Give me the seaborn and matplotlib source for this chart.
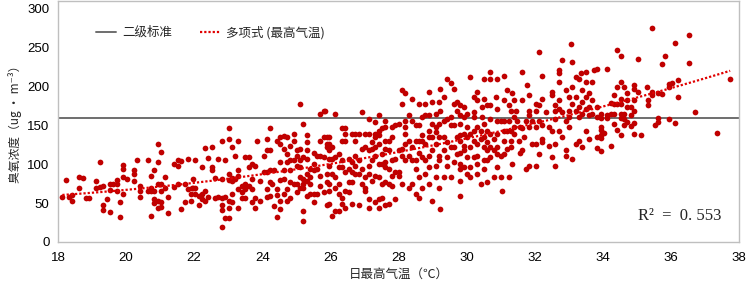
import pandas as pd
import seaborn as sns
import matplotlib.pyplot as plt

# Daily max temperature (°C) columns and the ozone readings (ug/m3) stacked in each,
# read off the chart strip by strip
temp_18_22 = [18.13, 18.23, 18.32, 18.42, 18.63, 18.73, 18.81, 18.91, 19.12, 19.22,
              19.31, 19.33, 19.43, 19.53, 19.63, 19.73, 19.82, 19.92, 20.02, 20.23,
              20.32, 20.42, 20.64, 20.74, 20.83, 20.93, 21.03, 21.13, 21.23, 21.42,
              21.52, 21.62, 21.72, 21.81, 21.91, 21.98]
ozone_18_22 = [[58], [80], [58], [53, 60], [83, 69], [82], [57], [57], [78, 70], [103, 71],
               [47, 41], [72], [55], [38, 75, 67], [75], [75, 80, 65], [51, 32], [99, 94, 83, 62], [81], [92, 88, 78],
               [106], [72, 66, 58], [105, 65], [85, 69, 66, 34], [92, 66, 55, 50], [126, 103, 75, 53, 44],
               [116, 75, 65, 52, 45], [83, 69], [58, 37], [100, 71],
               [106, 98, 74], [104, 43], [74, 51], [107, 68], [62, 53], [70, 81]]

temp_22_26 = [21.93, 22.03, 22.13, 22.22, 22.32, 22.42, 22.52, 22.62, 22.71, 22.81,
              22.91, 23.01, 23.11, 23.20, 23.30, 23.40, 23.50, 23.60, 23.69, 23.79,
              23.84, 23.94, 24.04, 24.13, 24.23, 24.28, 24.33, 24.43, 24.53, 24.63,
              24.72, 24.82, 24.92, 25.02, 25.12, 25.21, 25.31, 25.41, 25.51, 25.61,
              25.70, 25.80, 25.90]
ozone_22_26 = [[69], [105, 69, 62], [59, 48], [96, 62, 55], [121, 66, 53], [108, 58], [122, 96, 92], [82, 57],
               [107, 58], [130, 81, 57, 48, 41, 19],
               [106, 58, 31], [146, 133, 87, 80, 53, 44, 31], [122, 82, 79, 62, 51], [111, 81],
               [130, 92, 85, 68, 44], [72, 64, 57], [109, 75, 68, 57], [109, 96, 72], [100, 81, 68, 51],
               [98, 57, 44],
               [130], [79, 53], [110, 90], [133, 118, 90, 68, 58], [146, 118, 92, 77, 59], [75], [92, 46],
               [130, 68, 61, 32], [135, 126, 103, 80, 53, 42], [136, 120, 92, 81, 62],
               [135, 113, 103, 68, 53], [124, 105, 92, 77, 57], [139, 130, 105, 75], [118, 111, 98, 75, 64],
               [178, 120, 105, 96, 83, 70], [152, 109, 81, 75, 70, 40, 27], [137, 128, 118, 107, 87, 79, 59],
               [94, 83, 75, 62], [114, 100, 92, 62, 51], [111, 94, 62],
               [165, 130, 111, 85, 72], [169, 135, 109, 64], [135, 126, 122, 87, 77, 48]]

temp_26_30 = [25.85, 25.95, 26.05, 26.14, 26.24, 26.34, 26.44, 26.54, 26.63, 26.73,
              26.83, 26.93, 27.03, 27.12, 27.22, 27.32, 27.42, 27.52, 27.61, 27.71,
              27.81, 27.91, 28.01, 28.10, 28.20, 28.30, 28.40, 28.50, 28.59, 28.69,
              28.79, 28.89, 28.99, 29.09, 29.18, 29.23, 29.33, 29.43, 29.53, 29.62,
              29.72, 29.82, 29.92]
ozone_26_30 = [[169], [135, 126, 118, 107, 98, 75, 66, 49], [122, 107, 87, 34], [165, 109, 83, 70, 40],
               [113, 96, 75, 62, 40], [146, 130, 105, 96, 57, 49], [146, 139, 130, 90, 66, 44],
               [107, 94, 77, 64], [139, 103, 90, 77, 49], [139, 130, 111, 98, 87],
               [139, 105, 87, 47], [167, 120, 94, 75], [139, 122, 83, 70, 66], [158, 139, 118, 98, 87, 55, 44],
               [128, 120, 105, 79], [154, 139, 135, 122, 111, 85, 51], [163, 143, 137, 126, 100, 83, 55, 44],
               [146, 113, 100, 75, 57], [156, 148, 130, 120, 103, 96, 77, 47], [130, 118, 94, 75, 49],
               [148, 135, 105, 85, 72], [150, 107, 90, 55], [152, 118, 90, 85], [195, 178, 120, 111, 75],
               [191, 156, 148, 139, 126, 105], [163, 130, 111, 70], [184, 156, 122, 105, 75],
               [150, 130, 105, 94, 62], [178, 150, 130, 115, 83, 57], [161, 137, 130, 109, 70],
               [178, 163, 126, 105, 87], [193, 163, 143, 135, 111, 96, 75], [180, 152, 135, 118, 53],
               [165, 148, 141, 126, 98, 83], [180, 152, 135, 111, 105, 70], [197, 169, 42],
               [186, 156, 135, 118, 83], [210, 158, 128, 109, 98], [204, 161, 150, 122, 83],
               [197, 178, 150, 122, 103],
               [180, 169, 135, 113], [176, 163, 152, 137, 130, 115, 100, 94, 79, 59],
               [174, 161, 139, 124, 118, 96]]

temp_30_34 = [30.02, 30.11, 30.21, 30.31, 30.41, 30.46, 30.51, 30.60, 30.70, 30.80,
              30.85, 30.90, 31.00, 31.05, 31.09, 31.19, 31.24, 31.29, 31.34, 31.39,
              31.44, 31.49, 31.54, 31.58, 31.63, 31.68, 31.73, 31.78, 31.83, 31.93,
              32.03, 32.12, 32.22, 32.32, 32.42, 32.52, 32.61, 32.71, 32.81, 32.91,
              33.01, 33.06, 33.10, 33.20, 33.30, 33.35, 33.40, 33.50, 33.59, 33.69,
              33.74, 33.84]
ozone_30_34 = [[165, 148, 135, 109, 87], [212, 139, 122, 96, 83], [186, 167, 161, 143, 130, 109],
               [193, 182, 148, 126, 111, 100, 87], [143, 133, 75], [174, 161],
               [210, 184, 152, 135, 122, 105, 94], [176, 143, 128, 118, 105, 77],
               [219, 210, 176, 158, 139, 122, 109], [133, 118, 83],
               [186], [210, 171, 156, 139, 122, 113, 96], [156, 111, 83], [66],
               [214, 182, 156, 143, 130, 113], [195, 143, 120], [176, 156, 83], [169, 143, 130, 122],
               [191, 100], [182, 161, 148, 139],
               [169], [156], [130], [148, 115], [219, 182, 146, 118], [135], [156, 94], [202],
               [189, 169, 163, 148, 98], [156, 126],
               [178, 169, 148, 126, 98], [245, 176, 156, 113], [214, 184, 150, 133, 128], [167],
               [148, 124], [193, 189, 143, 109], [176, 169, 158, 126, 98],
               [221, 217, 206, 182, 171, 143], [234, 167, 135], [195, 156, 118, 111],
               [186, 169, 161, 148], [255], [232, 199, 178, 107], [212, 186, 169, 126],
               [210, 174, 161, 130], [217], [195, 180, 165, 122], [219, 206, 186, 171, 143],
               [191, 174, 163, 133], [206, 182, 165],
               [221], [222, 174, 161, 135, 121]]

temp_34_38 = [33.94, 34.04, 34.13, 34.23, 34.33, 34.43, 34.53, 34.62, 34.72, 34.82,
              34.92, 35.02, 35.11, 35.31, 35.34, 35.44, 35.54, 35.63, 35.73, 35.83,
              35.93, 36.03, 36.12, 36.22, 36.52, 36.71, 37.35, 37.74]
ozone_34_38 = [[165, 159, 148, 144, 138, 134, 117], [140], [222, 163, 159], [179, 164, 124],
               [189, 178, 165, 152], [247, 200, 178, 144], [239, 206, 184, 178, 165, 160, 138],
               [199, 165, 158, 151], [191, 183, 174, 154], [174, 163, 149],
               [202, 197, 183, 169, 153, 139], [236, 193], [137], [199], [183, 176], [275, 193, 189],
               [151], [192, 160, 154], [229, 190], [239],
               [203, 200, 158], [205], [256, 153], [209, 186], [266, 230], [167], [140], [210]]

standard_level = 160   # 二级标准
r2_text = 'R²  =  0. 553'
x_ticks = list(range(18, 39, 2))
y_ticks = list(range(0, 301, 50))

rows = []
for temps, ozones in [(temp_18_22, ozone_18_22), (temp_22_26, ozone_22_26),
                      (temp_26_30, ozone_26_30), (temp_30_34, ozone_30_34),
                      (temp_34_38, ozone_34_38)]:
    for t, vals in zip(temps, ozones, strict=True):
        for v in vals:
            rows.append({'temp': t, 'ozone': v})
df = pd.DataFrame(rows)

sns.set_style('white')
plt.rcParams['font.family'] = ['Noto Sans CJK SC', 'DejaVu Sans']

fig = plt.figure(figsize=(7.47, 2.86), dpi=100)
ax = fig.add_axes([0.0776, 0.154, 0.9117, 0.8425])

sns.scatterplot(data=df, x='temp', y='ozone', color='#C00000', s=17, linewidth=0, ax=ax, zorder=3)
std_line = ax.axhline(standard_level, color='#6E6E6E', linewidth=1.4, zorder=2)
# second-order polynomial trend, as in the spreadsheet
sns.regplot(data=df, x='temp', y='ozone', order=2, ci=None, scatter=False, ax=ax,
            line_kws={'color': '#E00000', 'linewidth': 1.6, 'linestyle': (0, (1, 0.9)), 'zorder': 4})
trend_line = ax.get_lines()[-1]

ax.set_xlim(18, 38)
ax.set_ylim(0, 310)
ax.set_xticks(x_ticks)
ax.set_yticks(y_ticks)
ax.tick_params(direction='in', length=4, color='#BFBFBF', labelsize=9, colors='#000000')
ax.tick_params(axis='x', pad=7)
ax.tick_params(axis='y', pad=6)
for lab in ax.get_xticklabels() + ax.get_yticklabels():
    lab.set_family(['Liberation Sans'])
    lab.set_fontsize(9.5)
for sp in ax.spines.values():
    sp.set_color('#BFBFBF')
    sp.set_linewidth(1)

ax.set_xlabel('日最高气温（℃）', fontsize=9, labelpad=3)
ax.set_ylabel('臭氧浓度（ug • m⁻³）', fontsize=8.5, labelpad=4)

ax.legend([std_line, trend_line], ['二级标准', '多项式 (最高气温)'], loc='center left',
          bbox_to_anchor=(0.04, 0.87), ncol=2, frameon=False, fontsize=9,
          handlelength=1.6, handletextpad=0.5, columnspacing=2.2)

ax.text(0.913, 0.108, r2_text, transform=ax.transAxes, ha='center', va='center',
        fontsize=12, family=['Liberation Serif', 'DejaVu Serif'])

plt.savefig('out.png', dpi=100)
